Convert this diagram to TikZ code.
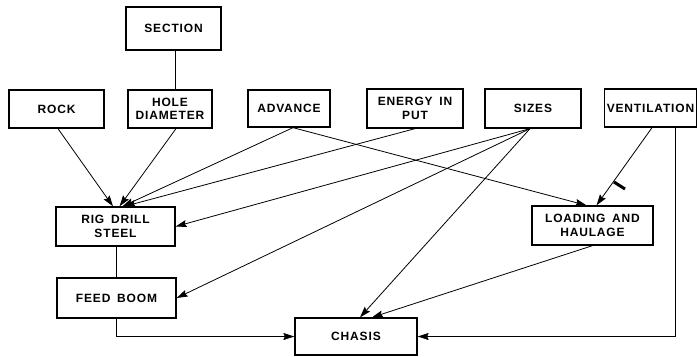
\documentclass[tikz,border=0pt]{standalone}
\usepackage{fontspec}
\setmainfont{Liberation Sans}[LetterSpace=7,WordSpace=1.6]
\usetikzlibrary{arrows.meta}

\begin{document}
\begin{tikzpicture}[x=1pt,y=-1pt,box/.style={rectangle, draw, line width=1.3pt, align=center, inner sep=1pt,
     font=\fontsize{12}{13.5}\selectfont\bfseries},arrow/.style={line width=0.8pt, -{Stealth[length=11pt,width=7pt,inset=1.5pt]}},
     link/.style={line width=0.8pt}]
     \useasboundingbox (0,0) rectangle (698,356);
     % top row
     \node (section)[box, minimum width=95, minimum height=43] at (173.5,28.5) {SECTION};
     \node (rock)[box, minimum width=95, minimum height=38] at (56.5,109) {ROCK};\node (hole)[box, minimum width=84, minimum height=38] at (170,109) {HOLE\\DIAMETER};
     \node (adv)[box, minimum width=82, minimum height=37] at (289,108.5) {ADVANCE};\node (energy)[box, minimum width=96, minimum height=39] at (415,108.5) {ENERGY IN\\PUT};
     \node (sizes)[box, minimum width=96, minimum height=39] at (533,108.5) {SIZES};\node (vent)[box, minimum width=92, minimum height=38] at (650.5,108) {VENTILATION};
     % lower boxes
     \node (rig)[box, minimum width=119, minimum height=39] at (115.5,226.5) {RIG DRILL\\STEEL};\node (feed)[box, minimum width=119, minimum height=40] at (116.5,298) {FEED BOOM};
     \node (load)[box, minimum width=121, minimum height=39] at (592.5,225.5) {LOADING AND\\HAULAGE};\node (chasis)[box, minimum width=122, minimum height=37] at (356,336.5) {CHASIS};
     % connectors
     \draw [link] ([xshift=2]section.south) -- ([xshift=5.5]hole.north);\draw [link] (feed.north |- rig.south) -- (feed.north);
     \draw [arrow] ([xshift=1.5]rock.south) -- ([xshift=-2.5]rig.north);\draw [arrow] ([xshift=6]hole.south) -- ([xshift=4]rig.north);
     \draw [arrow] ([xshift=4]adv.south) -- ([xshift=7]rig.north);\draw [arrow] (energy.south) -- ([xshift=9]rig.north);
     \draw [arrow] ([xshift=-3]sizes.south) -- (rig.east);\draw [arrow] ([xshift=-3]sizes.south) -- (feed.east);
     \draw [arrow] ([xshift=-3]sizes.south) -- ([xshift=4]chasis.north);\draw [arrow] ([xshift=4]adv.south) -- ([xshift=-6]load.north);
     \draw [arrow] ([xshift=1.5]vent.south) -- ([xshift=4]load.north);\draw [arrow] (load.south) -- ([xshift=16]chasis.north);
     \draw [arrow] ([xshift=24.5]vent.south) |- (chasis.east);\draw [arrow] (feed.south) |- (chasis.west);
     \draw [line width=3pt] (614,182) -- (625,189);
\end{tikzpicture}
\end{document}
